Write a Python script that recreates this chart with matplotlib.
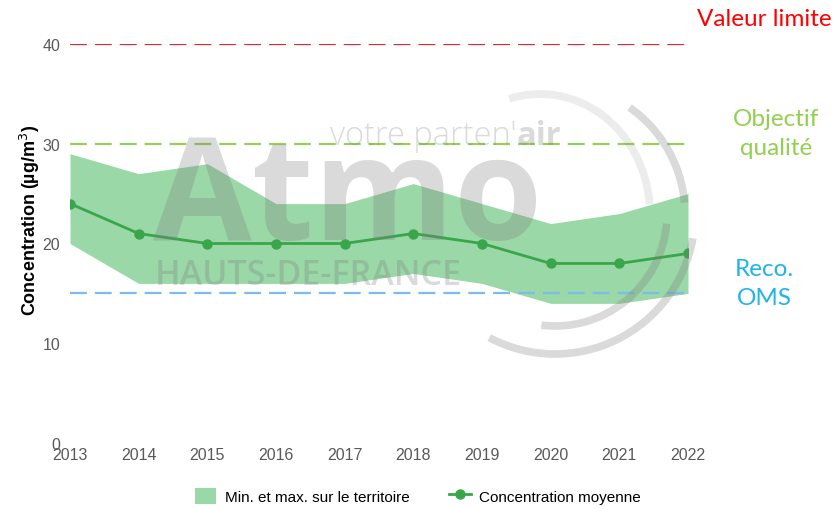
"""
NO2 concentration chart (Atmo Hauts-de-France style) -> out.png
"""
import numpy as np
import matplotlib
matplotlib.use("Agg")
import matplotlib.pyplot as plt
from matplotlib.patches import Arc

# ── data ────────────────────────────────────────────────────────────────────
years = [2013, 2014, 2015, 2016, 2017, 2018, 2019, 2020, 2021, 2022]
conc_min = [20, 16, 16, 16, 16, 17, 16, 14, 14, 15]
conc_max = [29, 27, 28, 24, 24, 26, 24, 22, 23, 25]
conc_mean = [24, 21, 20, 20, 20, 21, 20, 18, 18, 19]

thresholds = [40, 30, 15]
threshold_labels = ["Valeur limite", "Objectif\nqualité", "Reco.\nOMS"]
yticks = [0, 10, 20, 30, 40]

C_BAND = "#9ad8a7"
C_MEAN = "#3aa64c"
C_LINES = ["#e3262b", "#9ccc5a", "#7cbcec"]
C_TEXT = ["#ff0000", "#92d050", "#1fb4e8"]
C_TICK = "#595959"

W, H = 835, 510
fig = plt.figure(figsize=(W / 100, H / 100), dpi=100)
ax = fig.add_axes([70 / W, 1 - 444 / H, (688 - 70) / W, (444 - 45) / H])

# band + mean
ax.fill_between(years, conc_min, conc_max, color=C_BAND, lw=0,
                label="Min. et max. sur le territoire", zorder=1)
ax.plot(years, conc_mean, color=C_MEAN, lw=2, marker="o", ms=6.5,
        label="Concentration moyenne", zorder=3)

# threshold lines
for val, c in zip(thresholds, C_LINES):
    ax.axhline(val, color=c, lw=1.6, ls=(0, (7.6, 3.6)), zorder=2)

ax.set_xlim(years[0], years[-1])
ax.set_ylim(0, 40)
ax.set_xticks(years)
ax.set_yticks(yticks)
ax.tick_params(length=0, labelsize=11.5, labelcolor=C_TICK)
ax.tick_params(axis="x", pad=3)
ax.tick_params(axis="y", pad=7)
for lab in ax.get_xticklabels() + ax.get_yticklabels():
    lab.set_fontfamily("Liberation Sans")
for s in ax.spines.values():
    s.set_visible(False)

ax.set_ylabel("Concentration (µg/m$^3$)", fontsize=13, fontweight="bold",
              family="Liberation Sans")
ax.yaxis.set_label_coords(-0.045, 0.56)

# legend
fig.legend(*ax.get_legend_handles_labels(), loc="center",
           bbox_to_anchor=(418 / W, 1 - 497 / H), ncol=2, frameon=False,
           prop={"family": "Liberation Sans", "size": 11},
           handlelength=1.4, handleheight=1.3, columnspacing=2.6,
           handletextpad=0.55)

# right-hand labels
for lab, c, (x, y) in zip(threshold_labels, C_TEXT,
                          [(764, 20), (776, 134), (764, 284)]):
    fig.text(x / W, 1 - y / H, lab, color=c, fontsize=17.5, family="Lato",
             ha="center", va="center", linespacing=1.42)

# ── watermark (logo) ───────────────────────────────────────────────────────
wm = fig.add_axes([0, 0, 1, 1], zorder=5)
wm.set_xlim(0, W)
wm.set_ylim(H, 0)
wm.axis("off")
gray = "#7a7a7a"
wm.text(348, 240, "Atmo", fontsize=103, family="Open Sans", weight="bold",
        color=gray, alpha=0.28, ha="center", va="baseline")
wm.text(155, 285, "HAUTS-DE-FRANCE", fontsize=24.5, family="Open Sans",
        weight="semibold", color=gray, alpha=0.28, ha="left", va="baseline")
t1 = wm.text(330, 145, "votre parten'", fontsize=23.5, family="Open Sans",
             weight="light", color=gray, alpha=0.28, ha="left", va="baseline")
r = fig.canvas.get_renderer()
x_end = wm.transData.inverted().transform(t1.get_window_extent(r))[1][0]
wm.text(x_end, 145, "air", fontsize=23.5, family="Open Sans", weight="bold",
        color=gray, alpha=0.28, ha="left", va="baseline")
wm.add_patch(Arc((555, 215), 280, 280, theta1=10, theta2=118, lw=5.5,
                 color=gray, alpha=0.28))
wm.add_patch(Arc((555, 215), 224, 224, theta1=5, theta2=97, lw=5.5,
                 color=gray, alpha=0.28))
wm.add_patch(Arc((555, 215), 260, 260, theta1=305, theta2=355, lw=5.5,
                 color=gray, alpha=0.28))
wm.add_patch(Arc((540, 215), 220, 240, theta1=255, theta2=355, lw=5.5,
                 color=gray, alpha=0.14))

fig.savefig("out.png", dpi=100)
